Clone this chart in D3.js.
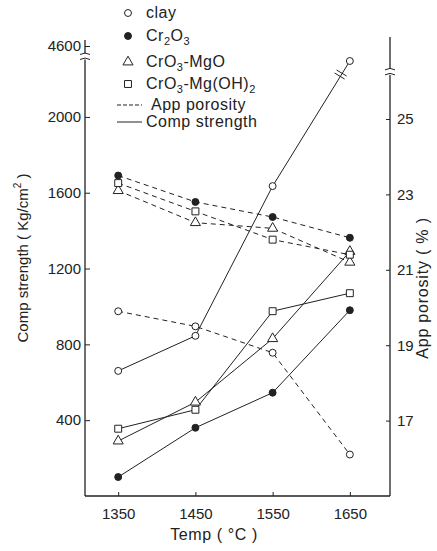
<!DOCTYPE html>
<html>
<head>
<meta charset="utf-8">
<script src="https://cdn.jsdelivr.net/npm/d3@7/dist/d3.min.js"></script>
<style>
  body { margin: 0; background: #fff; }
  text { font-family: 'Liberation Sans', Arial, sans-serif; fill: #222; }
</style>
</head>
<body>
<div id="chart-1"></div>
<script>
// Data

var temps = [1350, 1450, 1550, 1650]
var materials = ['clay', 'Cr2O3', 'CrO3-MgO', 'CrO3-Mg(OH)2']

// apparent porosity (%), dashed lines
var porosityClay = [19.9, 19.5, 18.8, 16.1]
var porosityCr2O3 = [23.5, 22.8, 22.4, 21.85]
var porosityMgO = [23.1, 22.25, 22.1, 21.2]
var porosityMgOH = [23.3, 22.55, 21.8, 21.4]

// compressive strength (Kg/cm2), solid lines
var strengthClay = [660, 845, 1635, 4100]
var strengthCr2O3 = [100, 360, 545, 980]
var strengthMgO = [290, 495, 830, 1290]
var strengthMgOH = [355, 455, 975, 1070]

var tempTicks = [1350, 1450, 1550, 1650]
var strengthTicks = [400, 800, 1200, 1600, 2000, 4600]
var porosityTicks = [17, 19, 21, 23, 25]

// Set up svg

var width = 437
var height = 551

var svg = d3
  .select('#chart-1')
  .append('svg')
  .attr('width', width)
  .attr('height', height)

// Scales (the strength axis has a break between 2200 and 4000)

var xPositionScale = d3.scaleLinear().domain([1307, 1702]).range([85, 390])
var yStrengthScale = d3
  .scaleLinear()
  .domain([0, 2200, 4000, 4600])
  .range([496, 79, 64, 46])
var yPorosityScale = d3.scaleLinear().domain([15, 25]).range([496, 119])

var ink = '#222'

var series = [
  { name: materials[0], symbol: 'circle', fill: '#fff', porosity: porosityClay, strength: strengthClay },
  { name: materials[1], symbol: 'circle', fill: ink, porosity: porosityCr2O3, strength: strengthCr2O3 },
  { name: materials[2], symbol: 'triangle', fill: '#fff', porosity: porosityMgO, strength: strengthMgO },
  { name: materials[3], symbol: 'square', fill: '#fff', porosity: porosityMgOH, strength: strengthMgOH }
]

var symbolTypes = {
  circle: d3.symbolCircle,
  triangle: d3.symbolTriangle,
  square: d3.symbolSquare
}
var symbolSizes = { circle: 38, triangle: 44, square: 48 }

function symbolPath(s) {
  return d3.symbol().type(symbolTypes[s]).size(symbolSizes[s])()
}

var porosityLine = d3
  .line()
  .x((d, i) => xPositionScale(temps[i]))
  .y(d => yPorosityScale(d))

var strengthLine = d3
  .line()
  .x((d, i) => xPositionScale(temps[i]))
  .y(d => yStrengthScale(d))

// Draw lines

svg
  .selectAll('.porosity-line')
  .data(series)
  .enter()
  .append('path')
  .attr('class', 'porosity-line')
  .attr('d', d => porosityLine(d.porosity))
  .attr('fill', 'none')
  .attr('stroke', ink)
  .attr('stroke-width', 1)
  .attr('stroke-dasharray', '5,4')

svg
  .selectAll('.strength-line')
  .data(series)
  .enter()
  .append('path')
  .attr('class', 'strength-line')
  .attr('d', d => strengthLine(d.strength))
  .attr('fill', 'none')
  .attr('stroke', ink)
  .attr('stroke-width', 1)

// little break mark on the clay strength line
var p1 = [xPositionScale(temps[2]), yStrengthScale(strengthClay[2])]
var p2 = [xPositionScale(temps[3]), yStrengthScale(strengthClay[3])]
var bp = d3.interpolate(p1, p2)(0.88)
svg
  .append('path')
  .attr('d', 'M-6,-3 L4,3 M-4,-6 L6,0')
  .attr('transform', 'translate(' + bp[0] + ',' + bp[1] + ')')
  .attr('stroke', ink)
  .attr('fill', 'none')
  .attr('stroke-width', 1)

// Markers

series.forEach(function(s) {
  svg
    .selectAll('.p-' + s.symbol + s.fill.replace('#', ''))
    .data(s.porosity)
    .enter()
    .append('path')
    .attr('d', symbolPath(s.symbol))
    .attr('transform', (d, i) => 'translate(' + xPositionScale(temps[i]) + ',' + yPorosityScale(d) + ')')
    .attr('fill', s.fill)
    .attr('stroke', ink)

  svg
    .selectAll('.s-' + s.symbol + s.fill.replace('#', ''))
    .data(s.strength)
    .enter()
    .append('path')
    .attr('d', symbolPath(s.symbol))
    .attr('transform', (d, i) => 'translate(' + xPositionScale(temps[i]) + ',' + yStrengthScale(d) + ')')
    .attr('fill', s.fill)
    .attr('stroke', ink)
})

// Axes

var xAxis = d3
  .axisBottom(xPositionScale)
  .tickValues(tempTicks)
  .tickSize(-4)
  .tickPadding(12)
  .tickFormat(d => d)

svg
  .append('g')
  .attr('class', 'axis x-axis')
  .attr('transform', 'translate(0,496)')
  .call(xAxis)

var yAxis = d3
  .axisLeft(yStrengthScale)
  .tickValues(strengthTicks)
  .tickSize(-5)
  .tickPadding(4)
  .tickFormat(d => d)

svg
  .append('g')
  .attr('class', 'axis y-axis')
  .attr('transform', 'translate(85,0)')
  .call(yAxis)

var yAxisRight = d3
  .axisRight(yPorosityScale)
  .tickValues(porosityTicks)
  .tickSize(-4)
  .tickPadding(7)
  .tickFormat(d => d)

svg
  .append('g')
  .attr('class', 'axis y-axis-right')
  .attr('transform', 'translate(390,0)')
  .call(yAxisRight)

svg.selectAll('.axis .domain').remove()
svg.selectAll('.axis line').attr('stroke', ink)
svg
  .selectAll('.axis text')
  .attr('font-size', 15)
  .attr('font-family', "'Liberation Sans', Arial, sans-serif")
  .attr('fill', ink)

// axis lines drawn by hand so the breaks can sit on them
svg
  .append('line')
  .attr('x1', 85).attr('x2', 390)
  .attr('y1', 496).attr('y2', 496)
  .attr('stroke', ink).attr('stroke-width', 1.3)

svg
  .append('line')
  .attr('x1', 85).attr('x2', 85)
  .attr('y1', 40).attr('y2', 496)
  .attr('stroke', ink).attr('stroke-width', 1.3)

svg
  .append('line')
  .attr('x1', 390).attr('x2', 390)
  .attr('y1', 37).attr('y2', 496)
  .attr('stroke', ink).attr('stroke-width', 1.3)

function drawBreak(x, y) {
  svg
    .append('rect')
    .attr('x', x - 5).attr('y', y - 3)
    .attr('width', 10).attr('height', 6)
    .attr('fill', '#fff')
  svg
    .append('path')
    .attr('d', 'M' + (x - 5) + ',' + (y - 2) + ' q5,-3 10,0 M' + (x - 5) + ',' + (y + 3) + ' q5,-3 10,0')
    .attr('fill', 'none')
    .attr('stroke', ink)
}

drawBreak(85, yStrengthScale(4250))
drawBreak(390, yPorosityScale(26.25))

// Axis titles

svg
  .append('text')
  .text('Temp  ( °C )')
  .attr('x', 214)
  .attr('y', 540)
  .attr('text-anchor', 'middle')
  .attr('font-size', 16)
  .attr('letter-spacing', 0.6)

var leftTitle = svg
  .append('text')
  .attr('transform', 'translate(28,258) rotate(-90)')
  .attr('text-anchor', 'middle')
  .attr('font-size', 15)
leftTitle.append('tspan').text('Comp strength ( Kg/cm')
leftTitle.append('tspan').text('2').attr('font-size', 10).attr('dy', -7)
leftTitle.append('tspan').text(' )').attr('dy', 7)

svg
  .append('text')
  .text('App porosity ( % )')
  .attr('transform', 'translate(428,288) rotate(-90)')
  .attr('text-anchor', 'middle')
  .attr('font-size', 16)
  .attr('letter-spacing', 0.8)

// Legend

var legendX = 128
var legendRows = [13, 36, 62, 84, 105, 122]

series.forEach(function(s, i) {
  svg
    .append('path')
    .attr('d', symbolPath(s.symbol))
    .attr('transform', 'translate(' + legendX + ',' + legendRows[i] + ')')
    .attr('fill', s.fill)
    .attr('stroke', ink)
})

function subLabel(y, parts) {
  var t = svg
    .append('text')
    .attr('x', 146)
    .attr('y', y + 5)
    .attr('font-size', 16)
    .attr('letter-spacing', 0.5)
  parts.forEach(function(p) {
    if (p.sub) {
      t.append('tspan').text(p.t).attr('font-size', 11).attr('dy', 4)
    } else {
      t.append('tspan').text(p.t).attr('dy', p.back ? -4 : 0)
    }
  })
}

subLabel(legendRows[0], [{ t: 'clay' }])
subLabel(legendRows[1], [{ t: 'Cr' }, { t: '2', sub: true }, { t: 'O', back: true }, { t: '3', sub: true }])
subLabel(legendRows[2], [{ t: 'CrO' }, { t: '3', sub: true }, { t: '-MgO', back: true }])
subLabel(legendRows[3], [{ t: 'CrO' }, { t: '3', sub: true }, { t: '-Mg(OH)', back: true }, { t: '2', sub: true }])

svg
  .append('line')
  .attr('x1', 117).attr('x2', 142)
  .attr('y1', legendRows[4]).attr('y2', legendRows[4])
  .attr('stroke', ink)
  .attr('stroke-dasharray', '4,2')
svg
  .append('line')
  .attr('x1', 117).attr('x2', 142)
  .attr('y1', legendRows[5]).attr('y2', legendRows[5])
  .attr('stroke', ink)

svg
  .append('text')
  .text('App porosity')
  .attr('x', 151)
  .attr('y', legendRows[4] + 5)
  .attr('font-size', 16)
  .attr('letter-spacing', 0.5)
svg
  .append('text')
  .text('Comp strength')
  .attr('x', 146)
  .attr('y', legendRows[5] + 5)
  .attr('font-size', 16)
  .attr('letter-spacing', 0.5)
</script>
</body>
</html>
